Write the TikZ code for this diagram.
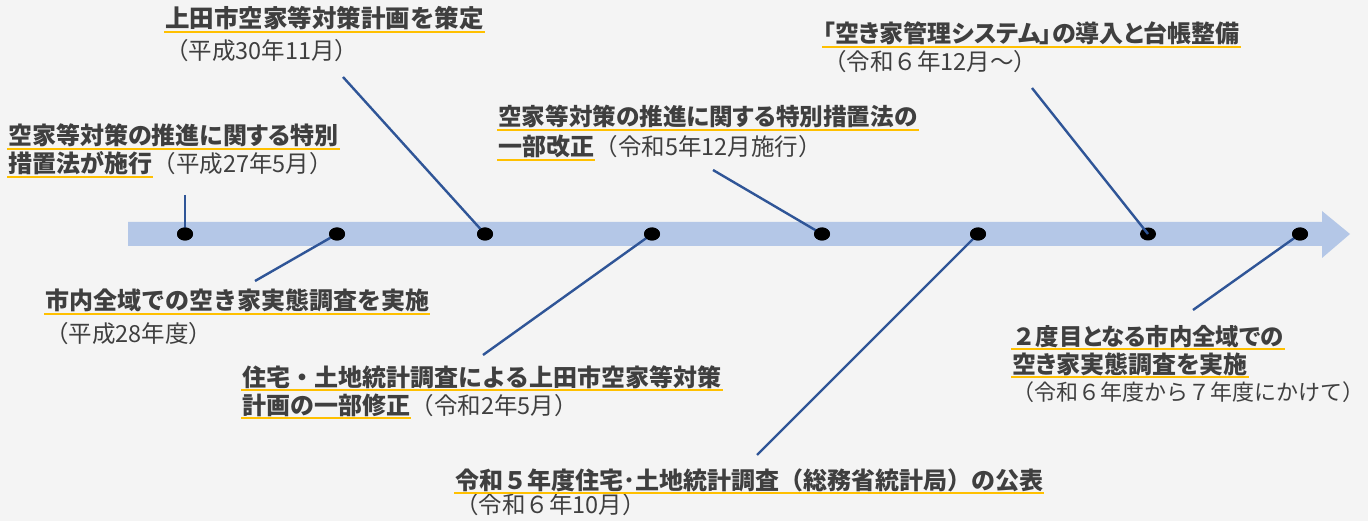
\documentclass[tikz,border=0pt]{standalone}
\usepackage{fontspec}
\newfontfamily\jpb[RawFeature=+palt]{Noto Sans CJK JP}
\newfontfamily\jpr{Noto Sans CJK JP}
\definecolor{bgc}{HTML}{F4F4F4}
\definecolor{bandc}{HTML}{B4C7E7}
\definecolor{linec}{HTML}{2F5597}
\definecolor{txtc}{HTML}{3F3F3F}
\definecolor{ulc}{HTML}{FFC000}
\tikzset{
  bt/.style={font=\jpb\bfseries\fontsize{24}{24}\selectfont, text=txtc, inner sep=0pt, anchor=base west},
  btf/.style={font=\jpr\bfseries\fontsize{24}{24}\selectfont, text=txtc, inner sep=0pt, anchor=base west},
  rt/.style={font=\jpr\fontsize{23.5}{23.5}\selectfont, text=txtc, inner sep=0pt, anchor=base west},
  ul/.style={draw=ulc, line width=2.6pt},
  conn/.style={draw=linec, line width=2.4pt},
  dot/.style={ellipse, fill=black, minimum width=16pt, minimum height=13pt, inner sep=0pt}
}
\usetikzlibrary{shapes.geometric}
\begin{document}
\begin{tikzpicture}[x=1pt,y=-1pt]
\useasboundingbox (0,0) rectangle (1368,521);
\fill[bgc] (0,0) rectangle (1368,521);
% timeline band
\fill[bandc] (128,222) -- (1322,222) -- (1322,211) -- (1350,234) -- (1322,258) -- (1322,246) -- (128,246) -- cycle;
% dots
\foreach \i/\x in {1/185,2/337,3/485,4/652,5/822,6/978,7/1148,8/1300}
  \node[dot] (d\i) at (\x,234) {};
% free ends of connectors
\coordinate (c1) at (185,195);
\coordinate (c2) at (255,281);
\coordinate (c3) at (343,77);
\coordinate (c4) at (483,355);
\coordinate (c5) at (713,170);
\coordinate (c6) at (757,455);
\coordinate (c7) at (1032,88);
\coordinate (c8) at (1193,310);
\foreach \i in {1,...,8}
  \draw[conn] (c\i) -- (d\i.center);
\foreach \i in {1,2,3,4,5,6,8}
  \node[dot] at (d\i) {};
% texts
\node[btf, font=\jpr\bfseries\fontsize{24.5}{24.5}\selectfont] (t1) at (165,28) {上田市空家等対策計画を策定};
\node[rt] (r1) at (165,60) {（平成30年11月）};
\node[bt] (t2a) at (8,145) {空家等対策の推進に関する特別};
\node[bt] (t2b) at (8,173) {措置法が施行};
\node[rt] (r2) at (t2b.base east) {（平成27年5月）};
\node[bt, font=\jpb\bfseries\fontsize{23.6}{23.6}\selectfont] (t3a) at (498,126) {空家等対策の推進に関する特別措置法の};
\node[bt] (t3b) at (498,156) {一部改正};
\node[rt] (r3) at (t3b.base east) {（令和5年12月施行）};
\node[bt] (t4) at (823,43) {「空き家管理システム」の導入と台帳整備};
\node[rt] (r4) at (823,71) {（令和６年12月～）};
\node[btf] (t5) at (45,310) {市内全域での空き家実態調査を実施};
\node[rt] (r5) at (45,342) {（平成28年度）};
\node[btf] (t6a) at (242,386) {住宅・土地統計調査による上田市空家等対策};
\node[btf] (t6b) at (242,414) {計画の一部修正};
\node[rt] (r6) at (t6b.base east) {（令和2年5月）};
\node[btf] (t7) at (455,489) {令和５年度住宅･土地統計調査（総務省統計局）の公表};
\node[rt] (r7) at (455,513) {（令和６年10月）};
\node[bt, font=\jpb\bfseries\fontsize{23.4}{23.4}\selectfont] (t8a) at (1012,345) {{\jpr\bfseries ２}度目となる市内全域での};
\node[bt] (t8b) at (1012,373) {空き家実態調査を実施};
\node[rt, font=\jpr\fontsize{22}{22}\selectfont] (r8) at (1012,400) {（令和６年度から７年度にかけて）};
% underlines
\foreach \n in {t1,t2a,t2b,t3a,t3b,t4,t5,t6a,t6b,t7,t8a,t8b}
  \draw[ul] ([xshift=-1pt,yshift=-4pt]\n.base west) -- ([xshift=1pt,yshift=-4pt]\n.base east);
\end{tikzpicture}
\end{document}
